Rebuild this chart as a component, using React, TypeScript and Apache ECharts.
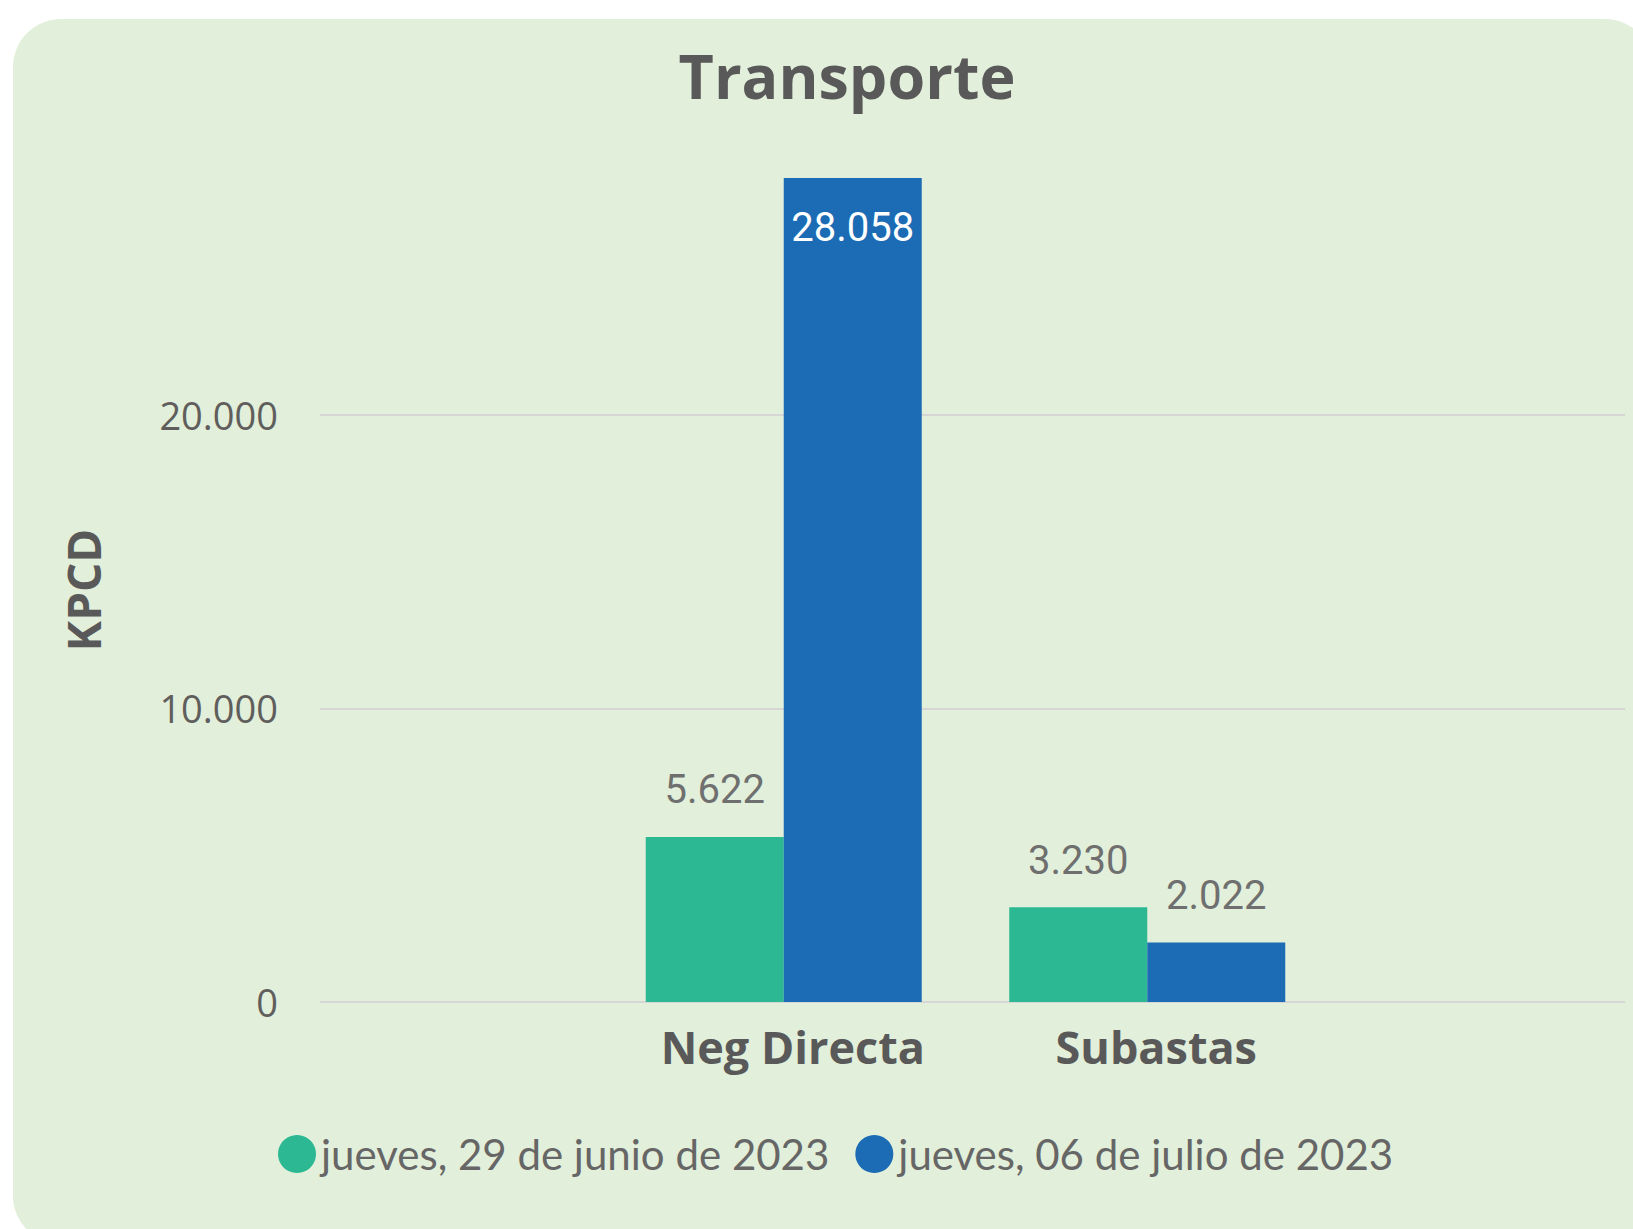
import React, { useEffect, useRef } from "react";
import * as echarts from "echarts";

const categories = ["Neg Directa", "Subastas"];
const seriesNames = ["jueves, 29 de junio de 2023", "jueves, 06 de julio de 2023"];
const valuesJunio = [5622, 3230];
const valuesJulio = [28058, 2022];
const yTicks = [0, 10000, 20000];

const GREEN = "#2BB893";
const BLUE = "#1B6CB4";
const fmt = (v: number) => String(Math.round(v)).replace(/\B(?=(\d{3})+(?!\d))/g, ".");

export default function App() {
  const ref = useRef<HTMLDivElement>(null);
  useEffect(() => {
    if (!ref.current) return;
    const chart = echarts.init(ref.current, undefined, { renderer: "svg" });
    const maxV = Math.max(...valuesJunio, ...valuesJulio);
    const interval = yTicks[1] - yTicks[0];
    const dataLabel = {
      show: true,
      position: "top",
      distance: 27,
      color: "#6f6f6f",
      fontFamily: "Roboto",
      fontSize: 40,
      formatter: (p: any) => fmt(p.value),
    };
    const mk = (vals: number[]) =>
      vals.map((v) =>
        v === maxV
          ? { value: v, label: { position: "insideTop", distance: 29, color: "#ffffff" } }
          : v
      );
    chart.setOption({
      animation: false,
      backgroundColor: "#ffffff",
      graphic: [
        {
          type: "rect",
          z: -10,
          silent: true,
          shape: { x: 13, y: 19, width: 1640, height: 1225, r: 48 },
          style: { fill: "#E2EFDA" },
        },
      ],
      title: {
        text: "Transporte",
        left: 842,
        top: 40,
        textAlign: "center",
        textStyle: { fontFamily: "Open Sans", fontWeight: "bold", fontSize: 61, color: "#595959" },
      },
      legend: {
        left: 273,
        top: 1128,
        icon: "circle",
        itemWidth: 38,
        itemHeight: 38,
        itemGap: 26,
        textStyle: { fontFamily: "Lato", fontSize: 42, color: "#666666" },
        data: seriesNames,
      },
      grid: [
        { left: 320, right: 8, top: 178, bottom: 227 },
        { left: 602, width: 727, top: 178, bottom: 227 },
      ],
      xAxis: [
        { gridIndex: 0, type: "category", data: [""], show: false },
        {
          gridIndex: 1,
          type: "category",
          data: categories,
          axisLine: { show: false },
          axisTick: { show: false },
          axisLabel: {
            margin: 22,
            padding: [0, 0, 0, 18],
            fontFamily: "Open Sans",
            fontWeight: "bold",
            fontSize: 45,
            color: "#595959",
          },
        },
      ],
      yAxis: [
        {
          gridIndex: 0,
          type: "value",
          min: 0,
          max: maxV,
          interval,
          name: "KPCD",
          nameLocation: "middle",
          nameGap: 214,
          nameTextStyle: { fontFamily: "Open Sans", fontWeight: "bold", fontSize: 46, color: "#595959" },
          axisLine: { show: false },
          axisTick: { show: false },
          axisLabel: {
            margin: 42,
            showMaxLabel: false,
            fontFamily: "Open Sans",
            fontSize: 38,
            color: "#605E5C",
            formatter: (v: number) => fmt(v),
          },
          splitLine: { show: true, showMaxLine: false, lineStyle: { color: "#d6d6d6", width: 2 } },
        },
        { gridIndex: 1, type: "value", min: 0, max: maxV, show: false, splitLine: { show: false } },
      ],
      series: [
        {
          name: seriesNames[0],
          type: "bar",
          xAxisIndex: 1,
          yAxisIndex: 1,
          barWidth: 138,
          barGap: "0%",
          itemStyle: { color: GREEN },
          label: dataLabel,
          data: mk(valuesJunio),
        },
        {
          name: seriesNames[1],
          type: "bar",
          xAxisIndex: 1,
          yAxisIndex: 1,
          barWidth: 138,
          barGap: "0%",
          itemStyle: { color: BLUE },
          label: dataLabel,
          data: mk(valuesJulio),
        },
      ],
    });
    return () => chart.dispose();
  }, []);
  return (
    <div
      ref={ref}
      style={{ position: "absolute", left: 0, top: 0, width: 1633, height: 1229 }}
    />
  );
}
